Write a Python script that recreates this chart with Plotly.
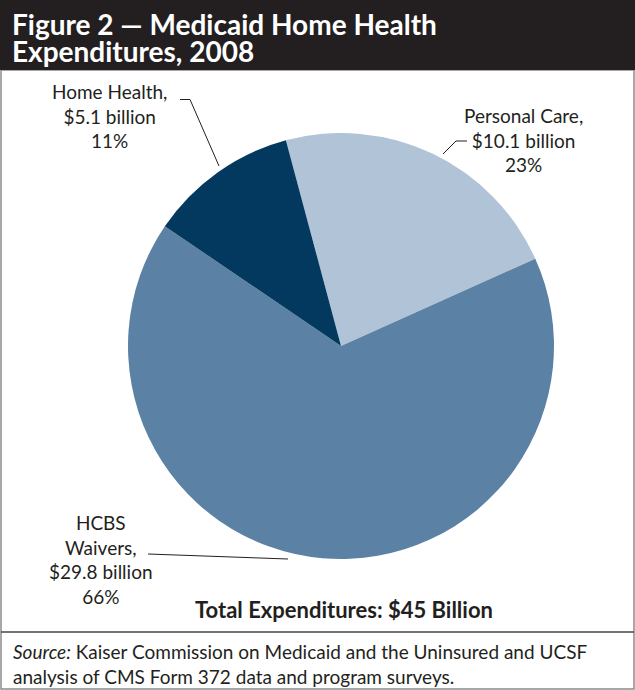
import plotly.graph_objects as go

# ---- data ----
categories = ["Personal Care", "HCBS Waivers", "Home Health"]
values_billion = [10.1, 29.8, 5.1]
value_labels = ["$10.1 billion", "$29.8 billion", "$5.1 billion"]
pct_labels = ["23%", "66%", "11%"]
colors = ["#b0c3d7", "#5b82a5", "#03385f"]

title_lines = ["Figure 2 — Medicaid Home Health", "Expenditures, 2008"]
total_label = "Total Expenditures: $45 Billion"
source_lines = ["<i>Source:</i> Kaiser Commission on Medicaid and the Uninsured and UCSF",
                "analysis of CMS Form 372 data and program surveys."]

W, H = 635, 690
FONT = "Lato"
TXT = "#231f20"

# pie geometry (pixels)
cx, cy, r = 341, 346, 213

fig = go.Figure()
fig.add_trace(go.Pie(
    labels=categories, values=values_billion, sort=False, direction="clockwise",
    rotation=-15, marker=dict(colors=colors, line=dict(width=0)),
    textinfo="none", hoverinfo="label+value+percent", showlegend=False,
    domain=dict(x=[(cx - r) / W, (cx + r) / W], y=[(H - cy - r) / H, (H - cy + r) / H]),
))

# hidden pixel axes for decorations
fig.update_xaxes(range=[0, W], visible=False, fixedrange=True)
fig.update_yaxes(range=[H, 0], visible=False, fixedrange=True)

shapes = [
    dict(type="rect", x0=1, x1=W - 1, y0=70, y1=H - 1, line=dict(color="#8c8c8c", width=1.5), layer="below"),
    dict(type="rect", x0=0, x1=W, y0=0, y1=70, fillcolor="#231f20", line=dict(width=0)),
    dict(type="line", x0=1, x1=W - 1, y0=632, y1=632, line=dict(color="#444444", width=1.5)),
    # leader lines
    dict(type="path", path="M180,99.5 L190,99.5 L219,166", line=dict(color=TXT, width=1)),
    dict(type="path", path="M443,154 L456,141 L467,141", line=dict(color=TXT, width=1)),
    dict(type="path", path="M148,554 L288,559", line=dict(color=TXT, width=1)),
]
for s in shapes:
    s.setdefault("xref", "x"); s.setdefault("yref", "y")
fig.update_layout(shapes=shapes)

ann = []
# titles
for i, t in enumerate(title_lines):
    ann.append(dict(x=10, y=[24, 51][i], text="<b>%s</b>" % t, xanchor="left", yanchor="middle",
                    font=dict(family=FONT, size=28, color="white")))
# slice labels
label_pos = {"Personal Care": (523, 140), "HCBS Waivers": (101, 559), "Home Health": (109, 116)}
for cat, val, pct in zip(categories, value_labels, pct_labels):
    x, y = label_pos[cat]
    if cat == "HCBS Waivers":
        txt = "HCBS<br>Waivers,<br>%s<br>%s" % (val, pct)
    else:
        txt = "%s,<br>%s<br>%s" % (cat, val, pct)
    ann.append(dict(x=x, y=y, text=txt, xanchor="center", yanchor="middle", align="center",
                    font=dict(family=FONT, size=19, color=TXT)))
ann.append(dict(x=344, y=609, text="<b>%s</b>" % total_label, xanchor="center", yanchor="middle",
                font=dict(family=FONT, size=22, color=TXT)))
for i, t in enumerate(source_lines):
    ann.append(dict(x=11, y=[651, 676][i], text=t, xanchor="left", yanchor="middle",
                    font=dict(family=FONT, size=19, color=TXT)))
for a in ann:
    a.update(xref="x", yref="y", showarrow=False)

fig.update_layout(annotations=ann, width=W, height=H, margin=dict(l=0, r=0, t=0, b=0),
                  paper_bgcolor="white", plot_bgcolor="white")
fig.write_html("out.html", config={"displayModeBar": False},
               post_script="document.body.style.margin='0';document.body.style.overflow='hidden';")
